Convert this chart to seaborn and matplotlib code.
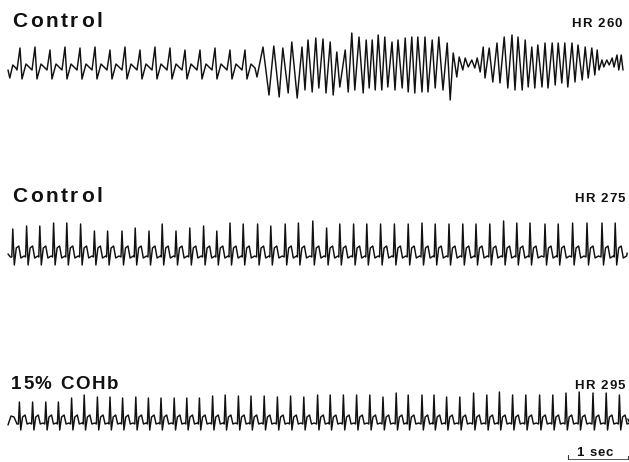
import pandas as pd
import matplotlib
matplotlib.use("Agg")
import matplotlib.pyplot as plt
import seaborn as sns

# ---------------------------------------------------------------------------
# Data: ECG strips (time in s, amplitude in mV)
# ---------------------------------------------------------------------------

# Strip 1 - Control, HR 260: sinus beats, then ventricular fibrillation
t1_beats = [0.20, 0.45, 0.70, 0.95, 1.20, 1.45, 1.70, 1.95,
            2.20, 2.45, 2.70, 2.95, 3.20, 3.45, 3.70, 3.95]
t1_r_amp = [2.2, 2.3, 2.0, 2.3, 2.2, 2.3, 2.0, 2.3,
            2.0, 2.3, 2.2, 2.0, 2.0, 2.2, 2.0, 2.0]
t1_lead_t = [0.00, 0.03, 0.08, 0.13]
t1_lead_v = [0.0, -0.8, 0.5, 0.2]
t1_fib_t = [4.15, 4.25, 4.35, 4.43, 4.52, 4.58, 4.67, 4.73, 4.82, 4.90,
            4.95, 5.00, 5.07, 5.13, 5.18, 5.25, 5.30, 5.37, 5.42, 5.48,
            5.53, 5.62, 5.67, 5.73, 5.78, 5.85, 5.92, 5.97, 6.02, 6.07,
            6.12, 6.17, 6.23, 6.28, 6.33, 6.40, 6.45, 6.50, 6.57, 6.62,
            6.67, 6.73, 6.78, 6.83, 6.90, 6.95, 7.00, 7.07, 7.12, 7.18,
            7.25, 7.32, 7.37, 7.42, 7.48, 7.52, 7.58, 7.62, 7.67, 7.73,
            7.78, 7.82, 7.87, 7.92, 7.95, 8.02, 8.08, 8.15, 8.20, 8.27,
            8.33, 8.40, 8.45, 8.50, 8.57, 8.62, 8.67, 8.73, 8.78, 8.83,
            8.90, 8.95, 9.00, 9.07, 9.12, 9.17, 9.23, 9.28, 9.33, 9.40,
            9.45, 9.50, 9.57, 9.62, 9.67, 9.73, 9.78, 9.82, 9.85, 9.90,
            9.93, 9.98, 10.02, 10.07, 10.10, 10.15, 10.18, 10.22, 10.25]
t1_fib_v = [-0.7, 2.3, -2.5, 2.4, -2.7, 2.2, -2.3, 2.8, -2.8, 2.3,
            -2.0, 3.0, -2.2, 3.2, -1.8, 3.1, -2.3, 2.8, -2.5, 1.8,
            -1.7, 2.0, -2.2, 3.7, -2.0, 3.3, -2.3, 3.0, -1.8, 3.0,
            -2.0, 3.5, -2.0, 3.3, -1.7, 2.8, -2.0, 3.0, -1.8, 3.2,
            -2.2, 3.3, -2.3, 3.3, -2.2, 3.3, -2.2, 3.0, -1.8, 3.3,
            -2.0, 2.7, -3.0, 1.7, -0.7, 1.3, 0.0, 1.2, 0.3, 1.0,
            0.2, 1.2, -0.2, 2.3, -0.8, 2.2, -1.2, 2.7, -1.3, 3.3,
            -1.8, 3.5, -2.0, 3.3, -2.0, 3.0, -1.7, 2.3, -1.8, 2.5,
            -1.7, 2.7, -1.8, 2.7, -1.5, 2.7, -1.3, 2.7, -1.7, 2.7,
            -1.2, 2.5, -1.0, 2.3, -0.8, 2.2, -0.5, 2.0, 0.0, 1.0,
            0.3, 1.0, 0.5, 1.2, 0.3, 1.5, 0.0, 1.5, 0.0]
# beat shape: offset from R peak (s) and level (mV); None marks the R peak
shape1_dt = [-0.05, 0.0, 0.033, 0.10, 0.167]
shape1_v = [0.0, None, -0.9, 0.6, 0.2]

# Strip 2 - Control, HR 275
t2_beats = [0.08, 0.31, 0.53, 0.76, 0.98, 1.21, 1.44, 1.66, 1.90, 2.12,
            2.35, 2.57, 2.80, 3.03, 3.26, 3.48, 3.70, 3.92, 4.16, 4.38,
            4.62, 4.84, 5.08, 5.31, 5.53, 5.76, 5.98, 6.21, 6.44, 6.67,
            6.90, 7.12, 7.35, 7.58, 7.80, 8.03, 8.26, 8.48, 8.70, 8.95,
            9.17, 9.41, 9.65, 9.90, 10.12]
t2_r_amp = [2.8, 3.1, 3.1, 3.4, 3.4, 3.3, 2.6, 2.6, 2.6, 2.9,
            2.6, 3.3, 2.6, 2.9, 3.1, 2.6, 3.4, 3.3, 3.3, 3.1,
            3.3, 3.4, 3.6, 2.9, 3.3, 3.3, 3.3, 3.3, 3.3, 3.3,
            3.4, 3.3, 3.3, 3.3, 3.3, 3.3, 3.6, 3.4, 3.4, 3.3,
            3.3, 3.4, 3.4, 3.4, 3.4]
t2_lead_t = [0.00, 0.04]
t2_lead_v = [0.3, 0.0]
t2_tail_t = [10.32]
t2_tail_v = [0.4]
shape2_dt = [-0.017, 0.0, 0.025, 0.058, 0.10, 0.135, 0.19]
shape2_v = [0.0, None, -0.8, 0.9, 1.1, -0.1, 0.1]

# Strip 3 - 15% COHb, HR 295
t3_beats = [0.19, 0.41, 0.63, 0.84, 1.06, 1.27, 1.49, 1.70, 1.91, 2.13,
            2.34, 2.55, 2.77, 2.98, 3.19, 3.41, 3.62, 3.84, 4.05, 4.27,
            4.49, 4.71, 4.93, 5.16, 5.37, 5.59, 5.81, 6.03, 6.25, 6.47,
            6.67, 6.90, 7.10, 7.31, 7.53, 7.76, 7.98, 8.19, 8.41, 8.63,
            8.86, 9.08, 9.30, 9.52, 9.75, 9.97, 10.19]
t3_r_amp = [2.2, 2.2, 2.2, 2.2, 2.6, 2.9, 2.7, 2.7, 2.6, 2.7,
            2.6, 2.6, 2.6, 2.6, 2.6, 2.8, 2.9, 2.8, 2.8, 2.8,
            2.7, 2.8, 2.7, 2.9, 2.9, 2.9, 2.9, 2.9, 2.7, 3.1,
            2.9, 2.9, 2.9, 2.7, 2.7, 3.1, 2.9, 3.2, 2.9, 2.9,
            2.9, 2.9, 3.1, 3.2, 3.1, 3.1, 2.9]
t3_lead_t = [0.00, 0.05, 0.10, 0.15]
t3_lead_v = [-0.1, 0.8, 0.7, 0.0]
t3_tail_t = [10.33]
t3_tail_v = [0.5]
shape3_dt = [-0.017, 0.0, 0.022, 0.053, 0.095, 0.128, 0.175]
shape3_v = [0.0, None, -0.6, 0.7, 0.9, 0.0, 0.1]

strip_titles = ["Control", "Control", "15% COHb"]
strip_rates = ["HR 260", "HR 275", "HR 295"]


def beat_train(beats, amps, dt, lv):
    ts, vs = [], []
    for tb, a in zip(beats, amps):
        for d, level in zip(dt, lv):
            ts.append(tb + d)
            vs.append(a if level is None else level)
    return ts, vs


b1_t, b1_v = beat_train(t1_beats, t1_r_amp, shape1_dt, shape1_v)
b2_t, b2_v = beat_train(t2_beats, t2_r_amp, shape2_dt, shape2_v)
b3_t, b3_v = beat_train(t3_beats, t3_r_amp, shape3_dt, shape3_v)

strips = [
    pd.DataFrame({"t": t1_lead_t + b1_t + t1_fib_t,
                  "mV": t1_lead_v + b1_v + t1_fib_v}),
    pd.DataFrame({"t": t2_lead_t + b2_t + t2_tail_t,
                  "mV": t2_lead_v + b2_v + t2_tail_v}),
    pd.DataFrame({"t": t3_lead_t + b3_t + t3_tail_t,
                  "mV": t3_lead_v + b3_v + t3_tail_v}),
]

# ---------------------------------------------------------------------------
# Figure
# ---------------------------------------------------------------------------
sns.set_theme(style="white")
plt.rcParams["font.family"] = ["Liberation Sans", "DejaVu Sans"]

W, H = 629, 462
fig = plt.figure(figsize=(W / 100, H / 100), dpi=100)
ax = fig.add_axes([0, 0, 1, 1])
ax.set_axis_off()

# horizontal layout: 60 px per second, strip starts 8 px from the left
PX_PER_S = 60.0
X0 = 8.0
ax.set_xlim(-X0 / PX_PER_S, (W - X0) / PX_PER_S)
# vertical layout: 10 px per mV, y measured downward from the top edge
PX_PER_MV = 10.0
ax.set_ylim(-H / PX_PER_MV, 0)

baselines_px = [70, 257, 424]
title_base_px = [27, 202, 389]

for df, base in zip(strips, baselines_px):
    d = df.copy()
    d["y"] = d["mV"] - base / PX_PER_MV
    sns.lineplot(data=d, x="t", y="y", ax=ax, color="#111111",
                 linewidth=1.05, estimator=None, sort=False)
ax.set_xlabel("")
ax.set_ylabel("")

renderer = fig.canvas.get_renderer()


def fx(px):
    return px / W


def fy(py):
    return 1 - py / H


def tracked_text(x_px, y_px, s, size, track, align="left"):
    """Bold label drawn glyph by glyph with extra letter spacing (px)."""
    space_w = 0.278 * size * 100 / 72
    glyphs = []
    for ch in s:
        if ch == " ":
            glyphs.append((None, space_w))
            continue
        t = fig.text(0, 0, ch, fontsize=size, fontweight="bold",
                     ha="left", va="baseline", color="#111111")
        glyphs.append((t, t.get_window_extent(renderer).width))
    total = sum(w for _, w in glyphs) + track * (len(glyphs) - 1)
    x = x_px - total if align == "right" else x_px
    for t, w in glyphs:
        if t is not None:
            t.set_position((fx(x), fy(y_px)))
        x += w + track


title_x = [12, 12, 11]
title_track = [2.6, 2.6, 1.6]
title_size = [15, 15, 13.5]
rate_right = [622, 625, 625]
for i in range(3):
    tracked_text(title_x[i], title_base_px[i], strip_titles[i],
                 title_size[i], title_track[i])
    tracked_text(rate_right[i], title_base_px[i], strip_rates[i], 9.5, 1.2,
                 align="right")

# 1 second calibration bar
bar_y = -459 / PX_PER_MV
bar_t0 = (568 - X0) / PX_PER_S
ax.plot([bar_t0, bar_t0 + 1.0], [bar_y, bar_y], color="#555555", lw=0.7)
ax.plot([bar_t0, bar_t0], [bar_y, bar_y + 0.4], color="#333333", lw=0.8)
ax.plot([bar_t0 + 1.0, bar_t0 + 1.0], [bar_y, bar_y + 0.3],
        color="#333333", lw=0.8)
tracked_text(576, 456, "1 sec", 9.5, 1.0)

fig.savefig("out.png", dpi=100, facecolor="white")
